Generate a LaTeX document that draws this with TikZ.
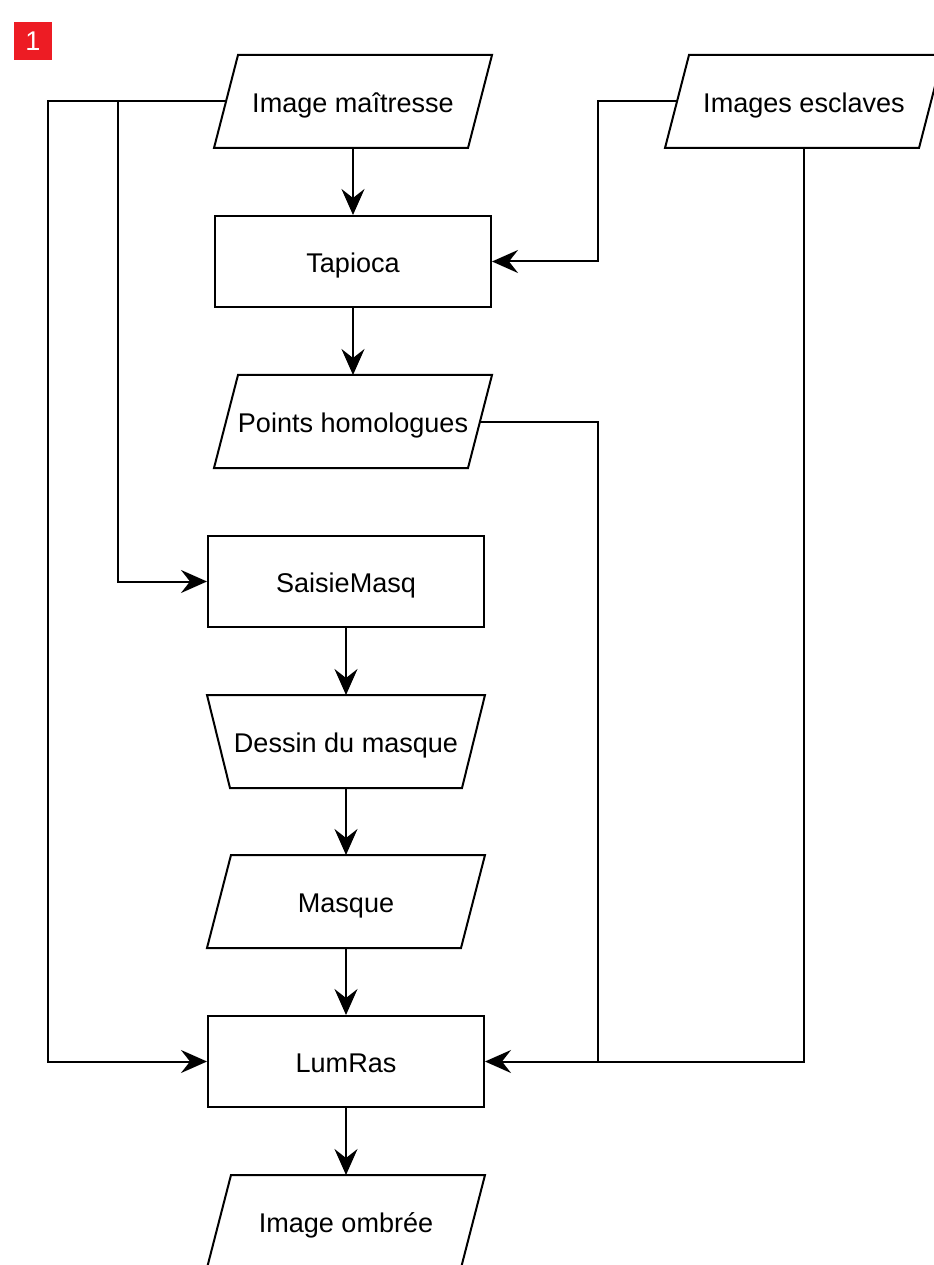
\documentclass[tikz,border=0pt]{standalone}
\usepackage{fontspec}
\setmainfont{Liberation Sans}
\usetikzlibrary{arrows.meta,positioning}
\definecolor{badgered}{HTML}{ED1C24}

\begin{document}
\begin{tikzpicture}
[x=0.2mm,y=-0.2mm,line width=0.4mm,>={Stealth[length=5.2mm,width=4.6mm,inset=1.8mm]},
every node/.style = {font=\fontsize{15.4}{18}\selectfont, inner sep = 0pt, text height = 12.7pt, text depth = 0pt},
box/.style = {rectangle, minimum width = 55.2mm, minimum height = 18.2mm},
proc/.style = {box, draw},]
\useasboundingbox (0,0) rectangle (934,1265);
\node (badge) at (33,41)[fill=badgered, minimum size = 7.6mm, text height = 11pt, text=white] {1};
\node (im) at (353,101.5)[box] {Image maîtresse};
\node (ie) at (804,101.5)[box] {Images esclaves};
\node (tap) at (353,261.5)[proc] {Tapioca};
\node (ph) at (353,421.5)[box] {Points homologues};
\node (sm) at (346,581.5)[proc] {SaisieMasq};
\node (dm) at (346,741.5)[box] {Dessin du masque};
\node (mq) at (346,901.5)[box] {Masque};
\node (lr) at (346,1061.5)[proc] {LumRas};
\node (om) at (346,1221.5)[box] {Image ombrée};
% parallelograms (data) and trapezium (manual operation)
\foreach \n in {im,ie,ph,mq,om}
  \draw ([xshift=4.8mm]\n.north west) -- (\n.north east) -- ([xshift=-4.8mm]\n.south east) -- (\n.south west) -- cycle;
\draw (dm.north west) -- (dm.north east) -- ([xshift=-4.6mm]dm.south east) -- ([xshift=4.6mm]dm.south west) -- cycle;
\coordinate (l1) at (48,1061.5);
\coordinate (l2) at (118,581.5);
\coordinate (r1) at (598,261.5);
\coordinate (r2) at (598,1061.5);
\draw[->] (im)--(tap);
\draw[->] (tap)--(ph);
\draw[->] (sm)--(dm);
\draw[->] (dm)--(mq);
\draw[->] (mq)--(lr);
\draw[->] (lr)--(om);
\draw[->] ([xshift=2.4mm]im.west) -| (l1) -- (lr.west);
\draw[->] ([xshift=2.4mm]im.west) -| (l2) -- (sm.west);
\draw[->] ([xshift=2.4mm]ie.west) -| (r1) -- (tap.east);
\draw ([xshift=-2.4mm]ph.east) -| (r2);
\draw[->] (ie.south) |- (lr.east);
\end{tikzpicture}
\end{document}
